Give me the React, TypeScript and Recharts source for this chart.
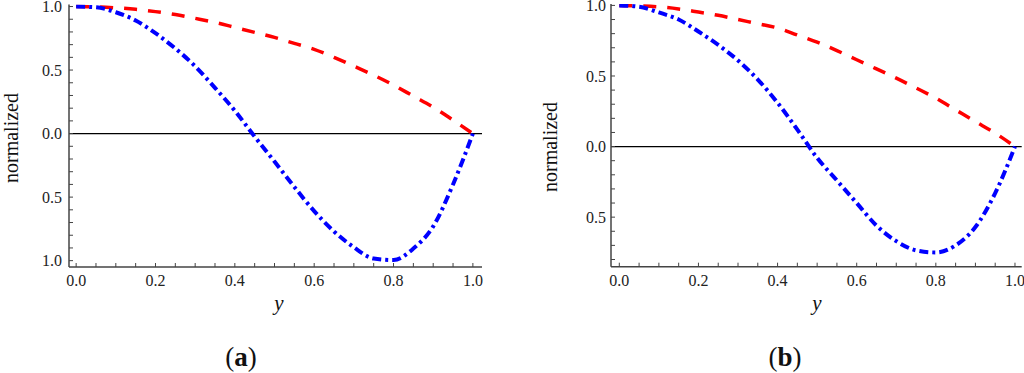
import React from 'react';
import { LineChart, Line, XAxis, YAxis, ReferenceLine } from 'recharts';

// sample positions along y (horizontal axis)
const yPos = [0, 0.05, 0.1, 0.15, 0.2, 0.25, 0.3, 0.35, 0.4, 0.45, 0.5, 0.55, 0.6, 0.65, 0.7, 0.75, 0.8, 0.85, 0.9, 0.95, 1.0];

// panel (a)
const redA = [1.0, 0.998, 0.99, 0.978, 0.96, 0.937, 0.907, 0.875, 0.836, 0.797, 0.757, 0.71, 0.663, 0.6, 0.531, 0.46, 0.382, 0.295, 0.208, 0.106, 0.0];
const blueA = [1.0, 0.994, 0.955, 0.89, 0.79, 0.67, 0.53, 0.36, 0.18, -0.024, -0.22, -0.42, -0.61, -0.77, -0.895, -0.983, -0.995, -0.905, -0.73, -0.4, 0.0];

// panel (b)
const redB = [1.0, 0.997, 0.99, 0.975, 0.953, 0.93, 0.9, 0.87, 0.84, 0.79, 0.74, 0.68, 0.615, 0.55, 0.485, 0.415, 0.343, 0.26, 0.177, 0.095, 0.0];
const blueB = [1.0, 0.99, 0.95, 0.9, 0.815, 0.72, 0.61, 0.475, 0.31, 0.12, -0.08, -0.24, -0.4, -0.56, -0.67, -0.735, -0.75, -0.7, -0.57, -0.33, 0.0];

const xTicks = [0, 0.05, 0.1, 0.15, 0.2, 0.25, 0.3, 0.35, 0.4, 0.45, 0.5, 0.55, 0.6, 0.65, 0.7, 0.75, 0.8, 0.85, 0.9, 0.95, 1.0];
const yTicksA = [-1.0, -0.9, -0.8, -0.7, -0.6, -0.5, -0.4, -0.3, -0.2, -0.1, 0, 0.1, 0.2, 0.3, 0.4, 0.5, 0.6, 0.7, 0.8, 0.9, 1.0];
const yTicksB = [-0.8, -0.7, -0.6, -0.5, -0.4, -0.3, -0.2, -0.1, 0, 0.1, 0.2, 0.3, 0.4, 0.5, 0.6, 0.7, 0.8, 0.9, 1.0];

const serif = "'Liberation Serif', 'Times New Roman', serif";
const tickStyle = { fontFamily: serif, fontSize: 16, fill: '#222' };
const frame = { stroke: '#444', strokeWidth: 1.5 };

const isStep = (v: number, step: number) => Math.abs(v / step - Math.round(v / step)) < 1e-6;
const fmtX = (v: number) => (isStep(v, 0.2) ? Math.abs(v).toFixed(1) : '');
const fmtY = (v: number) => (isStep(v, 0.5) ? Math.abs(v).toFixed(1) : '');
const blank = () => '';

interface PanelProps {
  left: number;
  width: number;
  yAxisWidth: number;
  marginRight: number;
  marginTop: number;
  xAxisHeight: number;
  xDomain: [number, number];
  yDomain: [number, number];
  yTicks: number[];
  red: number[];
  blue: number[];
  yTickMargin: number;
}

function Panel(p: PanelProps) {
  const rows = yPos.map((x, i) => ({ x, red: p.red[i], blue: p.blue[i] }));
  return (
    <div style={{ position: 'absolute', left: p.left, top: 0 }}>
      <LineChart
        width={p.width}
        height={330}
        data={rows}
        margin={{ top: p.marginTop, right: p.marginRight, bottom: 0, left: 0 }}
      >
        <XAxis
          xAxisId="b"
          dataKey="x"
          type="number"
          domain={p.xDomain}
          allowDataOverflow
          ticks={xTicks}
          interval={0}
          tickFormatter={fmtX}
          tick={tickStyle}
          tickSize={-4}
          tickMargin={12}
          tickLine={{ stroke: '#444' }}
          axisLine={frame}
          height={p.xAxisHeight}
        />
        <XAxis
          xAxisId="t"
          orientation="top"
          dataKey="x"
          type="number"
          domain={p.xDomain}
          allowDataOverflow
          ticks={xTicks}
          interval={0}
          tickFormatter={blank}
          tickSize={-4}
          tickLine={{ stroke: '#444' }}
          axisLine={frame}
          height={0}
        />
        <YAxis
          yAxisId="l"
          type="number"
          domain={p.yDomain}
          allowDataOverflow
          ticks={p.yTicks}
          interval={0}
          tickFormatter={fmtY}
          tick={tickStyle}
          tickSize={-4}
          tickMargin={p.yTickMargin}
          tickLine={{ stroke: '#444' }}
          axisLine={frame}
          width={p.yAxisWidth}
        />
        <YAxis
          yAxisId="r"
          orientation="right"
          type="number"
          domain={p.yDomain}
          allowDataOverflow
          ticks={p.yTicks}
          interval={0}
          tickFormatter={blank}
          tickSize={-4}
          tickLine={{ stroke: '#444' }}
          axisLine={frame}
          width={0}
        />
        <ReferenceLine xAxisId="b" yAxisId="l" y={0} stroke="#000" strokeWidth={1.2} />
        <Line
          xAxisId="b"
          yAxisId="l"
          type="monotone"
          dataKey="red"
          stroke="#ff0000"
          strokeWidth={3.5}
          strokeDasharray="13 11"
          dot={false}
          isAnimationActive={false}
        />
        <Line
          xAxisId="b"
          yAxisId="l"
          type="monotone"
          dataKey="blue"
          stroke="#0000ff"
          strokeWidth={4}
          strokeDasharray="9 4 3 4"
          dot={false}
          isAnimationActive={false}
        />
      </LineChart>
    </div>
  );
}

export default function App() {
  return (
    <div style={{ position: 'absolute', left: 0, top: 0, width: 1024, height: 373, background: '#fff' }}>
      <Panel
        left={0}
        width={500}
        yAxisWidth={69}
        marginRight={18}
        marginTop={4.5}
        xAxisHeight={63}
        xDomain={[-0.018, 1.023]}
        yDomain={[-1.05, 1.016]}
        yTicks={yTicksA}
        red={redA}
        blue={blueA}
        yTickMargin={11}
      />
      <Panel
        left={540}
        width={484}
        yAxisWidth={71}
        marginRight={2.3}
        marginTop={4}
        xAxisHeight={63.3}
        xDomain={[-0.021, 1.017]}
        yDomain={[-0.851, 1.01]}
        yTicks={yTicksB}
        red={redB}
        blue={blueB}
        yTickMargin={9}
      />
      <svg
        width={1024}
        height={373}
        style={{ position: 'absolute', left: 0, top: 0, pointerEvents: 'none' }}
      >
        <g fill="#111" fontFamily={serif}>
          <text x={11} y={138} fontSize={20} textAnchor="middle" dominantBaseline="central" transform="rotate(-90 11 138)">
            normalized
          </text>
          <text x={550} y={147} fontSize={20} textAnchor="middle" dominantBaseline="central" transform="rotate(-90 550 147)">
            normalized
          </text>
          <text x={279} y={310} fontSize={21} fontStyle="italic" textAnchor="middle">y</text>
          <text x={817} y={310} fontSize={21} fontStyle="italic" textAnchor="middle">y</text>
          <text x={241} y={366} fontSize={27} textAnchor="middle">
            (<tspan fontWeight="bold">a</tspan>)
          </text>
          <text x={785} y={366} fontSize={27} textAnchor="middle">
            (<tspan fontWeight="bold">b</tspan>)
          </text>
        </g>
      </svg>
    </div>
  );
}
